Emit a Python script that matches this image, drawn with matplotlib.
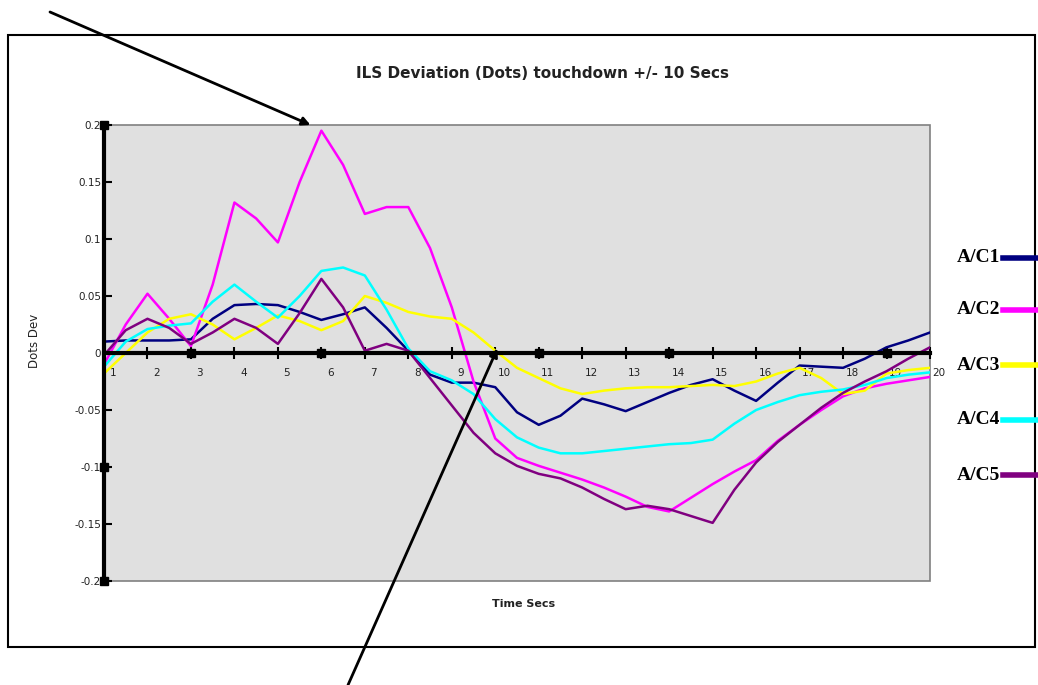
import matplotlib.pyplot as plt
from matplotlib.patches import Rectangle
from matplotlib.lines import Line2D
from matplotlib.transforms import ScaledTranslation

# time axis (seconds), one reading every half second
secs = [1, 1.5, 2, 2.5, 3, 3.5, 4, 4.5, 5, 5.5, 6, 6.5, 7, 7.5, 8, 8.5, 9, 9.5, 10, 10.5,
        11, 11.5, 12, 12.5, 13, 13.5, 14, 14.5, 15, 15.5, 16, 16.5, 17, 17.5, 18, 18.5,
        19, 19.5, 20]

ac1 = [0.010, 0.011, 0.011, 0.011, 0.012, 0.030, 0.042, 0.043, 0.042, 0.036, 0.029, 0.034,
       0.040, 0.022, 0.002, -0.019, -0.026, -0.026, -0.030, -0.052, -0.063, -0.055, -0.040,
       -0.045, -0.051, -0.043, -0.035, -0.028, -0.023, -0.033, -0.042, -0.026, -0.011,
       -0.012, -0.013, -0.005, 0.005, 0.011, 0.018]
ac2 = [-0.010, 0.025, 0.052, 0.030, 0.006, 0.060, 0.132, 0.118, 0.097, 0.150, 0.195, 0.165,
       0.122, 0.128, 0.128, 0.092, 0.040, -0.025, -0.075, -0.092, -0.099, -0.105, -0.111,
       -0.118, -0.126, -0.135, -0.139, -0.127, -0.115, -0.104, -0.094, -0.077, -0.063,
       -0.050, -0.038, -0.031, -0.027, -0.024, -0.021]
ac3 = [-0.018, 0.000, 0.018, 0.030, 0.034, 0.025, 0.012, 0.022, 0.033, 0.028, 0.020, 0.028,
       0.050, 0.044, 0.036, 0.032, 0.030, 0.018, 0.002, -0.013, -0.022, -0.031, -0.036,
       -0.033, -0.031, -0.030, -0.030, -0.029, -0.028, -0.029, -0.025, -0.018, -0.013,
       -0.022, -0.036, -0.033, -0.018, -0.015, -0.013]
ac4 = [-0.012, 0.010, 0.021, 0.024, 0.026, 0.045, 0.060, 0.045, 0.031, 0.050, 0.072, 0.075,
       0.068, 0.038, 0.004, -0.016, -0.024, -0.036, -0.058, -0.074, -0.083, -0.088, -0.088,
       -0.086, -0.084, -0.082, -0.080, -0.079, -0.076, -0.062, -0.050, -0.043, -0.037,
       -0.034, -0.032, -0.028, -0.022, -0.019, -0.017]
ac5 = [-0.002, 0.020, 0.030, 0.022, 0.008, 0.018, 0.030, 0.022, 0.008, 0.035, 0.065, 0.040,
       0.002, 0.008, 0.002, -0.022, -0.046, -0.070, -0.088, -0.099, -0.106, -0.110, -0.118,
       -0.128, -0.137, -0.134, -0.137, -0.143, -0.149, -0.120, -0.096, -0.078, -0.063,
       -0.048, -0.035, -0.025, -0.016, -0.005, 0.005]

series_names = ['A/C1', 'A/C2', 'A/C3', 'A/C4', 'A/C5']
series_colors = ['#000080', '#FF00FF', '#FFFF00', '#00FFFF', '#800080']
x_ticks = list(range(1, 21))
y_ticks = [-0.2, -0.15, -0.1, -0.05, 0, 0.05, 0.1, 0.15, 0.2]
y_labels = ['-0.2', '-0.15', '-0.1', '-0.05', '0', '0.05', '0.1', '0.15', '0.2']
# odd solid squares left on the axes in the scan
x_squares = [3, 6, 11, 14, 19]
y_squares = [0.2, -0.1, -0.2]

W, H = 1038, 685
fig = plt.figure(figsize=(W / 100, H / 100), dpi=100)
fig.patch.set_facecolor('white')

# outer chart box
fig.add_artist(Rectangle((8 / W, 1 - 647 / H), (1035 - 8) / W, (647 - 35) / H,
                         transform=fig.transFigure, fill=False, edgecolor='black', lw=1.5))

ax = fig.add_axes([104 / W, 1 - 581 / H, (930 - 104) / W, (581 - 125) / H])
ax.set_facecolor('#e0e0e0')
ax.patch.set_edgecolor('#808080')
ax.patch.set_linewidth(1.2)

for vals, col in zip([ac1, ac2, ac3, ac4, ac5], series_colors):
    ax.plot(secs, vals, color=col, lw=1.8, solid_joinstyle='round')

ax.set_xlim(1, 20)
ax.set_ylim(-0.2, 0.2)

ax.spines['top'].set_visible(False)
ax.spines['right'].set_visible(False)
ax.spines['left'].set_linewidth(3)
ax.spines['bottom'].set_position(('data', 0))
ax.spines['bottom'].set_linewidth(3)

ax.set_xticks(x_ticks)
ax.set_xticklabels([str(t) for t in x_ticks], fontsize=7.5, color='#222222')
ax.set_yticks(y_ticks)
ax.set_yticklabels(y_labels, fontsize=7.5, color='#222222')
ax.tick_params(axis='x', direction='inout', length=9, width=1.5, pad=6)
ax.tick_params(axis='y', direction='in', length=6, width=1.5, pad=2)
shift = ScaledTranslation(9 / 100, 0, fig.dpi_scale_trans)
for lab in ax.get_xticklabels():
    lab.set_transform(lab.get_transform() + shift)

ax.plot(x_squares, [0] * len(x_squares), ls='none', marker='s', ms=6, color='black', clip_on=False)
ax.plot([1] * len(y_squares), y_squares, ls='none', marker='s', ms=6, color='black', clip_on=False)

fig.text(543 / W, 1 - 73 / H, 'ILS Deviation (Dots) touchdown +/- 10 Secs',
         ha='center', va='center', fontsize=11, fontweight='bold', color='#222222')
fig.text(524 / W, 1 - 604 / H, 'Time Secs', ha='center', va='center',
         fontsize=8, fontweight='bold', color='#222222')
fig.text(34 / W, 1 - 341 / H, 'Dots Dev', ha='center', va='center', rotation=90,
         fontsize=8.5, color='#222222')

# legend outside the box on the right
legend_y = [258, 310, 365, 420, 475]
for name, col, py in zip(series_names, series_colors, legend_y):
    fig.text(1000 / W, 1 - py / H, name, ha='right', va='center', fontsize=14,
             fontweight='bold', family='Liberation Serif')
    fig.add_artist(Line2D([1003 / W, 1038 / W], [1 - py / H, 1 - py / H],
                          transform=fig.transFigure, color=col, lw=4))

# annotation pointers
ax.annotate('', xy=(5.75, 0.2), xycoords='data', xytext=(50 / W, 1 - 12 / H),
            textcoords='figure fraction', annotation_clip=False,
            arrowprops=dict(arrowstyle='-|>', lw=2, color='black', mutation_scale=12,
                            shrinkA=0, shrinkB=0))
ax.annotate('', xy=(10.05, 0.004), xycoords='data', xytext=(348 / W, 0.0),
            textcoords='figure fraction', annotation_clip=False,
            arrowprops=dict(arrowstyle='-|>', lw=2, color='black', mutation_scale=12,
                            shrinkA=0, shrinkB=0))

fig.savefig('out.png', dpi=100)
